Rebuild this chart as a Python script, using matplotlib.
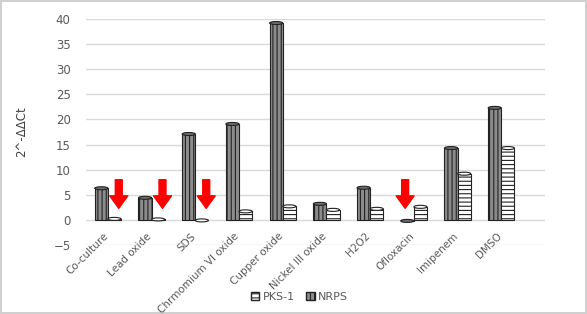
import matplotlib
matplotlib.use("Agg")
import matplotlib.pyplot as plt
import matplotlib.transforms as mtrans
from matplotlib.patches import Ellipse, Patch
import numpy as np

categories = ["Co-culture", "Lead oxide", "SDS", "Chrmomium VI oxide", "Cupper oxide",
              "Nickel III oxide", "H2O2", "Ofloxacin", "Imipenem", "DMSO"]
nrps = [6.3, 4.4, 17.1, 19.1, 39.2, 3.2, 6.4, -0.2, 14.3, 22.3]
pks1 = [0.2, 0.1, -0.1, 1.7, 2.7, 2.0, 2.2, 2.6, 9.2, 14.3]
# down-regulated markers
down_pks1 = ["Co-culture", "Lead oxide", "SDS"]
down_nrps = ["Ofloxacin"]
yticks = list(range(-5, 41, 5))

plt.rcParams['font.family'] = ['DejaVu Sans']
plt.rcParams['hatch.linewidth'] = 0.8

fig = plt.figure(figsize=(5.87, 3.14), dpi=100)
fig.patch.set_facecolor("white")
fig.patch.set_edgecolor("#d0d0d0")
fig.patch.set_linewidth(1.5)

ax = fig.add_axes([0.1465, 0.2197, 0.7820, 0.7198])
x = np.arange(len(categories))
w = 0.3
off = 0.15

dark_face = "#8c8c8c"
plt.rcParams['hatch.color'] = "#3a3a3a"
b1 = ax.bar(x - off, nrps, w, color=dark_face, edgecolor="#222222", linewidth=0.8,
            hatch="||||", zorder=3, label="NRPS")
b2 = ax.bar(x + off, pks1, w, color="white", edgecolor="#222222", linewidth=0.8,
            hatch="----", zorder=3, label="PKS-1")

# elliptical caps for a cylinder look
cap_h = 0.6
for xi, v in zip(x - off, nrps):
    ax.add_patch(Ellipse((xi, v), w, cap_h, facecolor="#6e6e6e", edgecolor="#222222",
                         linewidth=0.8, zorder=4))
for xi, v in zip(x + off, pks1):
    ax.add_patch(Ellipse((xi, v), w, cap_h, facecolor="white", edgecolor="#222222",
                         linewidth=0.8, zorder=4))

# red arrows for down-regulated genes
arrow_style = dict(facecolor="red", edgecolor="red", width=5, headwidth=13, headlength=9)
for name in down_pks1:
    i = categories.index(name)
    ax.annotate("", xy=(i + off + 0.1, 2.3), xytext=(i + off + 0.1, 8.0),
                arrowprops=arrow_style, zorder=5)
for name in down_nrps:
    i = categories.index(name)
    ax.annotate("", xy=(i - off - 0.05, 2.3), xytext=(i - off - 0.05, 8.0),
                arrowprops=arrow_style, zorder=5)

ax.set_xlim(-0.5, 10.0)
ax.set_ylim(-5, 40)
ax.set_yticks(yticks)
ax.tick_params(axis="y", length=0, labelsize=8.5, labelcolor="#595959", pad=11)
ax.set_xticks(x)
ax.set_xticklabels(categories, rotation=45, ha="right", va="top",
                   rotation_mode="anchor", fontsize=7.5, color="#595959")
ax.tick_params(axis="x", length=0, pad=-10)
shift = mtrans.ScaledTranslation(-5 / 100, 0, fig.dpi_scale_trans)
for lab in ax.get_xticklabels():
    lab.set_transform(lab.get_transform() + shift)
ax.yaxis.grid(True, color="#d9d9d9", linewidth=1, zorder=0)
ax.set_axisbelow(True)
for s in ax.spines.values():
    s.set_visible(False)

ax.set_ylabel("2^-ΔΔCt", fontsize=8.5, color="#404040", labelpad=18)

handles = [Patch(facecolor="white", edgecolor="#222222", hatch="----", label="PKS-1"),
           Patch(facecolor=dark_face, edgecolor="#222222", hatch="||||", label="NRPS")]
fig.legend(handles=handles, loc="center", bbox_to_anchor=(0.51, 0.055), ncol=2,
           frameon=False, fontsize=8, handlelength=0.8, handleheight=0.8,
           handletextpad=0.3, columnspacing=1.0, labelcolor="#595959")

fig.savefig("out.png", dpi=100, facecolor=fig.get_facecolor(), edgecolor=fig.get_edgecolor())
